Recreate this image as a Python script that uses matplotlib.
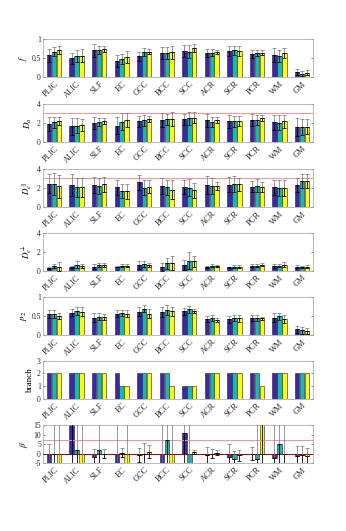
import numpy as np
import matplotlib
matplotlib.use("Agg")
import matplotlib.pyplot as plt

plt.rcParams["font.family"] = ["Liberation Serif", "DejaVu Serif"]
plt.rcParams["mathtext.fontset"] = "stix"

regions = ["PLIC", "ALIC", "SLF", "EC", "GCC", "BCC", "SCC", "ACR", "SCR", "PCR", "WM", "GM"]

# mean values, one row per region, three methods per row
f_mean = [[0.57, 0.67, 0.71], [0.49, 0.55, 0.56], [0.70, 0.71, 0.74], [0.42, 0.47, 0.53],
          [0.54, 0.65, 0.67], [0.63, 0.63, 0.65], [0.68, 0.67, 0.77], [0.63, 0.64, 0.66],
          [0.69, 0.70, 0.69], [0.60, 0.64, 0.64], [0.58, 0.56, 0.62], [0.14, 0.09, 0.11]]
f_err = [[0.17, 0.13, 0.11], [0.15, 0.16, 0.17], [0.17, 0.10, 0.08], [0.15, 0.14, 0.15],
         [0.13, 0.10, 0.07], [0.15, 0.15, 0.17], [0.16, 0.18, 0.11], [0.11, 0.10, 0.05],
         [0.13, 0.12, 0.13], [0.11, 0.08, 0.07], [0.18, 0.16, 0.13], [0.08, 0.07, 0.07]]

da_mean = [[1.85, 2.05, 2.20], [1.65, 1.70, 1.75], [1.95, 2.10, 2.20], [1.70, 2.10, 2.30],
           [2.15, 2.25, 2.40], [2.30, 2.35, 2.40], [2.35, 2.45, 2.55], [2.25, 2.10, 2.30],
           [2.15, 2.15, 2.20], [2.30, 2.30, 2.50], [2.05, 2.00, 2.15], [1.60, 1.55, 1.60]]
da_err = [[0.75, 0.60, 0.45], [0.90, 0.75, 0.65], [0.65, 0.45, 0.35], [0.90, 0.90, 0.70],
          [0.55, 0.55, 0.30], [0.75, 0.60, 0.75], [0.60, 0.70, 0.55], [0.70, 0.50, 0.30],
          [0.65, 0.55, 0.50], [0.65, 0.50, 0.35], [0.80, 0.80, 0.65], [0.95, 0.80, 0.80]]

dpar_mean = [[2.45, 2.45, 2.20], [2.35, 2.10, 2.10], [2.35, 2.25, 2.40], [2.10, 1.70, 1.65],
             [2.60, 2.05, 2.15], [2.25, 2.10, 1.85], [2.10, 2.05, 1.75], [2.35, 2.25, 2.20],
             [2.35, 2.40, 2.40], [2.15, 2.25, 2.10], [2.10, 2.00, 2.00], [2.30, 2.75, 2.75]]
dpar_err = [[1.00, 1.15, 1.20], [1.15, 1.00, 1.00], [0.85, 0.85, 0.80], [0.80, 0.75, 0.75],
            [0.80, 0.80, 0.70], [0.85, 0.80, 0.95], [0.75, 0.90, 0.80], [0.95, 0.85, 0.45],
            [0.80, 0.85, 0.70], [0.60, 0.70, 0.55], [0.80, 0.85, 0.80], [0.75, 0.75, 0.75]]

dperp_mean = [[0.25, 0.50, 0.45], [0.40, 0.65, 0.50], [0.45, 0.65, 0.65], [0.45, 0.55, 0.55],
              [0.60, 0.70, 0.60], [0.40, 0.80, 0.85], [0.60, 1.05, 1.00], [0.40, 0.55, 0.50],
              [0.35, 0.45, 0.45], [0.55, 0.55, 0.65], [0.50, 0.55, 0.65], [0.45, 0.40, 0.45]]
dperp_err = [[0.10, 0.25, 0.45], [0.15, 0.35, 0.25], [0.25, 0.20, 0.20], [0.10, 0.20, 0.20],
             [0.45, 0.35, 0.20], [0.40, 0.60, 0.75], [0.50, 0.90, 0.60], [0.10, 0.15, 0.10],
             [0.05, 0.15, 0.15], [0.15, 0.15, 0.15], [0.20, 0.20, 0.25], [0.20, 0.10, 0.15]]

p2_mean = [[0.55, 0.56, 0.50], [0.59, 0.64, 0.61], [0.46, 0.48, 0.47], [0.56, 0.58, 0.56],
           [0.61, 0.69, 0.56], [0.61, 0.66, 0.62], [0.63, 0.68, 0.64], [0.42, 0.45, 0.40],
           [0.42, 0.45, 0.44], [0.45, 0.45, 0.44], [0.46, 0.49, 0.43], [0.15, 0.12, 0.11]]
p2_err = [[0.11, 0.10, 0.07], [0.09, 0.10, 0.12], [0.12, 0.09, 0.08], [0.09, 0.09, 0.09],
          [0.12, 0.09, 0.12], [0.13, 0.13, 0.12], [0.09, 0.09, 0.05], [0.08, 0.07, 0.05],
          [0.09, 0.09, 0.09], [0.07, 0.07, 0.04], [0.11, 0.10, 0.10], [0.10, 0.10, 0.08]]

branch = [[2, 2, 2], [2, 2, 2], [2, 2, 2], [2, 1, 1], [2, 2, 2], [2, 2, 1],
          [1, 1, 1], [2, 2, 2], [2, 2, 2], [2, 2, 1], [2, 2, 2], [2, 2, 2]]

beta_mean = [[-8.0, 0.0, -9.0], [40.0, 1.7, -9.0], [-1.8, 1.8, 0.0], [-9.0, 0.5, -9.0],
             [-0.8, 0.0, 1.0], [-9.0, 7.0, -9.0], [10.8, -9.0, 0.8], [-1.0, 0.0, 0.5],
             [-1.8, -3.0, -1.0], [0.0, -2.7, 40.0], [-2.3, 5.0, 0.0], [-1.2, -1.0, -1.5]]
beta_err = [[13.0, 60.0, 60.0], [60.0, 60.0, 60.0], [4.0, 60.0, 2.2], [60.0, 2.5, 60.0],
            [3.8, 5.5, 3.3], [60.0, 60.0, 60.0], [60.0, 60.0, 1.0], [4.5, 2.5, 1.5],
            [7.0, 4.5, 3.0], [3.5, 60.0, 60.0], [60.0, 60.0, 60.0], [5.0, 5.0, 4.5]]

colors = ["#3E26A8", "#17B8B0", "#F9FB15"]

panels = [
    (f_mean, f_err, r"$f$", (0, 1), [0, 0.5, 1], ["0", "0.5", "1"], []),
    (da_mean, da_err, r"$D_a$", (0, 4), [0, 2, 4], ["0", "2", "4"], [(3.05, "#FF9090")]),
    (dpar_mean, dpar_err, r"$D_e^{\parallel}$", (0, 4), [0, 2, 4], ["0", "2", "4"], [(3.05, "#FF9090")]),
    (dperp_mean, dperp_err, r"$D_e^{\perp}$", (0, 4), [0, 2, 4], ["0", "2", "4"], []),
    (p2_mean, p2_err, r"$p_2$", (0, 1), [0, 0.5, 1], ["0", "0.5", "1"], []),
    (branch, None, "branch", (0, 3), [0, 1, 2, 3], ["0", "1", "2", "3"], []),
    (beta_mean, beta_err, r"$\beta$", (-5, 15), [-5, 0, 5, 10, 15], ["-5", "0", "5", "10", "15"],
     [(7.3, "#FF9090"), (0, "#A00000")]),
]

fig = plt.figure(figsize=(3.46, 5.31), dpi=100)
bottoms = [0.855, 0.733, 0.610, 0.490, 0.369, 0.249, 0.128]
x = np.arange(1, len(regions) + 1)
w = 0.2
offs = [-0.22, 0.0, 0.22]

for (mean, err, ylab, ylim, yt, ytl, hlines), b in zip(panels, bottoms):
    ax = fig.add_axes([0.124, b, 0.781, 0.0716])
    mean = np.array(mean, dtype=float)
    for k in range(3):
        ax.bar(x + offs[k], mean[:, k], width=w, color=colors[k], edgecolor="#222222",
               linewidth=0.4, zorder=2)
    for yv, c in hlines:
        ax.axhline(yv, color=c, linewidth=0.7, zorder=3)
    if err is not None:
        e = np.array(err, dtype=float)
        for k in range(3):
            zero = np.zeros(len(x))
            ax.errorbar(x + offs[k], mean[:, k], yerr=[zero, e[:, k]], fmt="none",
                        ecolor="#707070", elinewidth=0.5, capsize=1.6, capthick=0.5, zorder=4)
            ax.errorbar(x + offs[k], mean[:, k], yerr=[e[:, k], zero], fmt="none",
                        ecolor="black", elinewidth=0.6, capsize=1.6, capthick=0.6, zorder=4)
    ax.set_xlim(0.5, 12.5)
    ax.set_ylim(*ylim)
    ax.set_yticks(yt)
    ax.set_yticklabels(ytl)
    ax.set_xticks(x)
    ax.set_xticklabels(regions, rotation=45, ha="right", rotation_mode="anchor")
    ax.tick_params(axis="both", labelsize=5.5, direction="in", length=1.5, width=0.4,
                   colors="#262626", pad=1.5, top=True, right=True)
    ax.tick_params(axis="x", length=0, labelsize=6, pad=2)
    for s in ax.spines.values():
        s.set_color("#A0A0A0")
        s.set_linewidth(0.5)
    ax.set_ylabel(ylab, fontsize=6.5, labelpad=2)

fig.savefig("out.png", dpi=100)
